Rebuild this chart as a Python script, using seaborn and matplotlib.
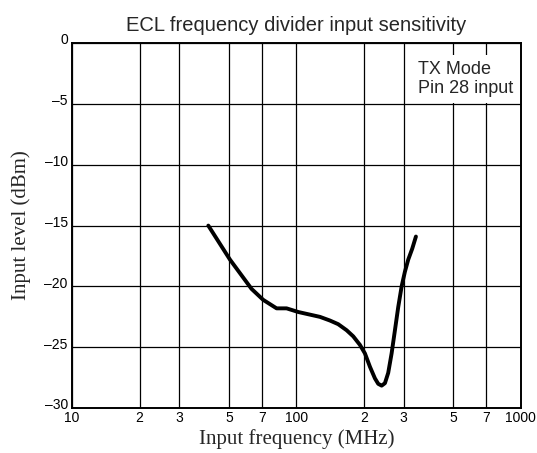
import matplotlib
matplotlib.use("Agg")
import matplotlib.pyplot as plt
import matplotlib.transforms as mtransforms
import seaborn as sns
import pandas as pd

# curve (frequency in MHz, level in dBm)
freq_mhz = [40.5, 50.6, 63.1, 71.1, 81.6, 90.4, 101.9, 127.3, 141, 153.5, 167.4,
            179.1, 191.8, 201.9, 212.6, 223.7, 231.4, 239.7, 247.9, 256.4, 265.5,
            274.7, 284.1, 294.2, 304.2, 314.8, 328.0, 340.7]
level_dbm = [-15.0, -17.8, -20.2, -21.1, -21.8, -21.8, -22.1, -22.5, -22.8, -23.1, -23.6,
             -24.1, -24.8, -25.5, -26.6, -27.55, -28.0, -28.15, -27.95, -27.1, -25.5,
             -23.6, -21.7, -20.0, -18.8, -17.8, -16.9, -15.9]

x_ticks = [10, 20, 30, 50, 70, 100, 200, 300, 500, 700, 1000]
x_tick_labels = ["10", "2", "3", "5", "7", "100", "2", "3", "5", "7", "1000"]
y_ticks = [0, -5, -10, -15, -20, -25, -30]
y_tick_labels = ["0", "\u20135", "\u201310", "\u201315", "\u201320", "\u201325", "\u201330"]

df = pd.DataFrame({"freq": freq_mhz, "level": level_dbm})

sns.set_style("white")
plt.rcParams["font.family"] = ["Liberation Sans", "DejaVu Sans"]

fig = plt.figure(figsize=(5.37, 4.53), dpi=100)
ax = fig.add_axes([0.134, 0.099, 0.836, 0.806])

sns.lineplot(data=df, x="freq", y="level", ax=ax, color="black", linewidth=2.8,
             sort=False, zorder=4)

ax.set_xscale("log")
ax.set_xlim(10, 1000)
ax.set_ylim(-30, 0)
ax.set_xticks(x_ticks)
ax.set_xticklabels(x_tick_labels)
ax.minorticks_off()
ax.set_yticks(y_ticks)
ax.set_yticklabels(y_tick_labels)
ax.tick_params(length=0, labelsize=10, colors="black")
ax.tick_params(axis="x", pad=2)
ax.tick_params(axis="y", pad=3)
shift = mtransforms.ScaledTranslation(0, 3 / 72, fig.dpi_scale_trans)
for lbl in ax.get_yticklabels():
    lbl.set_transform(lbl.get_transform() + shift)
ax.grid(True, color="black", linewidth=0.9)
for s in ax.spines.values():
    s.set_color("black")
    s.set_linewidth(1.4)

ax.set_title("ECL frequency divider input sensitivity", fontsize=14.5, pad=9)
ax.set_xlabel("Input frequency (MHz)", fontsize=15, family="Liberation Serif", labelpad=3)
ax.set_ylabel("Input level (dBm)", fontsize=15, family="Liberation Serif", labelpad=10)

ax.text(0.770, 0.95, "TX Mode\nPin 28 input", transform=ax.transAxes, ha="left", va="top",
        fontsize=13, linespacing=1.1, zorder=5,
        bbox=dict(facecolor="white", edgecolor="none", pad=4.5))

fig.savefig("out.png", dpi=100)
